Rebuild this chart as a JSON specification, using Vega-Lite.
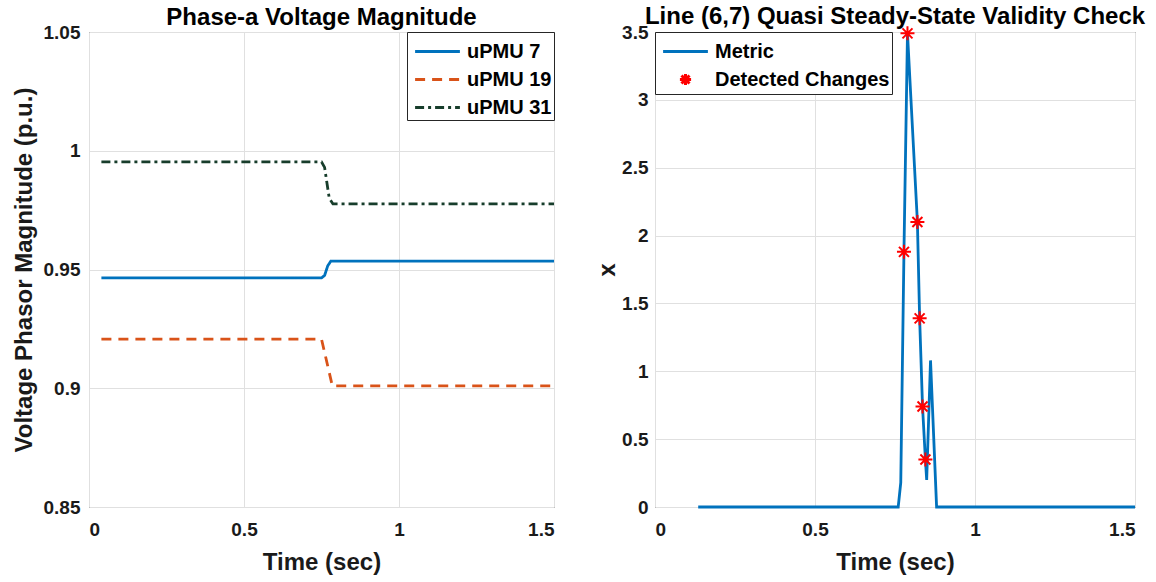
{
  "$schema": "https://vega.github.io/schema/vega-lite/v6.json",
  "padding": {"left": 11, "top": 4, "right": 2, "bottom": 2},
  "background": "white",
  "spacing": 40,
  "config": {
    "font": "Liberation Sans",
    "view": {"stroke": "#262626", "strokeWidth": 1},
    "axis": {
      "labelFont": "Liberation Sans", "labelFontWeight": "bold", "labelFontSize": 19, "labelColor": "#1a1a1a",
      "titleFont": "Liberation Sans", "titleFontWeight": "bold", "titleFontSize": 24, "titleColor": "#1a1a1a",
      "grid": true, "gridColor": "#e0e0e0", "gridWidth": 1, "ticks": false, "domain": false,
      "labelPadding": 13, "format": "~g"
    },
    "title": {"font": "Liberation Sans", "fontWeight": "bold", "fontSize": 24, "color": "#000000", "offset": -7},
    "legend": {
      "labelFont": "Liberation Sans", "labelFontWeight": "bold", "labelFontSize": 20, "labelColor": "#000000",
      "strokeColor": "#262626", "fillColor": "white", "padding": 2, "offset": 0,
      "symbolStrokeWidth": 3, "symbolSize": 1024, "rowPadding": -4.5, "title": null,
      "symbolOffset": 11, "labelOffset": 12, "labelLimit": 400
    }
  },
  "resolve": {
    "scale": {"x": "independent", "y": "independent", "color": "independent", "strokeDash": "independent", "shape": "independent"},
    "legend": {"color": "independent", "strokeDash": "independent", "shape": "independent"}
  },
  "hconcat": [
    {
      "width": 465,
      "height": 475,
      "title": "Phase-a Voltage Magnitude",
      "data": {"values": [
        {"series": "uPMU 7", "t": 0.04, "v": 0.9465},
        {"series": "uPMU 7", "t": 0.75, "v": 0.9465},
        {"series": "uPMU 7", "t": 0.76, "v": 0.9475},
        {"series": "uPMU 7", "t": 0.77, "v": 0.9515},
        {"series": "uPMU 7", "t": 0.78, "v": 0.9535},
        {"series": "uPMU 7", "t": 1.5, "v": 0.9535},
        {"series": "uPMU 19", "t": 0.04, "v": 0.9207},
        {"series": "uPMU 19", "t": 0.75, "v": 0.9207},
        {"series": "uPMU 19", "t": 0.785, "v": 0.901},
        {"series": "uPMU 19", "t": 1.5, "v": 0.901},
        {"series": "uPMU 31", "t": 0.04, "v": 0.9953},
        {"series": "uPMU 31", "t": 0.75, "v": 0.9953},
        {"series": "uPMU 31", "t": 0.76, "v": 0.993},
        {"series": "uPMU 31", "t": 0.775, "v": 0.98},
        {"series": "uPMU 31", "t": 0.787, "v": 0.9776},
        {"series": "uPMU 31", "t": 1.5, "v": 0.9776}
      ]},
      "mark": {"type": "line", "strokeWidth": 2.8, "clip": true},
      "encoding": {
        "x": {"field": "t", "type": "quantitative", "title": "Time (sec)",
              "scale": {"domain": [0, 1.5], "nice": false, "zero": false},
              "axis": {"values": [0, 0.5, 1, 1.5], "titlePadding": 11}},
        "y": {"field": "v", "type": "quantitative", "title": "Voltage Phasor Magnitude (p.u.)",
              "scale": {"domain": [0.85, 1.05], "nice": false, "zero": false},
              "axis": {"values": [0.85, 0.9, 0.95, 1, 1.05], "titlePadding": 7, "labelPadding": 9}},
        "color": {"field": "series", "type": "nominal",
                  "scale": {"domain": ["uPMU 7", "uPMU 19", "uPMU 31"], "range": ["#0072BD", "#D95319", "#173d2b"]},
                  "legend": {"orient": "top-right", "symbolType": "M-1.4,0L1.4,0"}},
        "strokeDash": {"field": "series", "type": "nominal",
                  "scale": {"domain": ["uPMU 7", "uPMU 19", "uPMU 31"], "range": [[1, 0], [10, 7], [9, 4, 3, 4]]},
                  "legend": {"orient": "top-right", "symbolType": "M-1.4,0L1.4,0"}}
      }
    },
    {
      "width": 480,
      "height": 475,
      "title": "Line (6,7) Quasi Steady-State Validity Check",
      "data": {"values": [
        {"series": "Metric", "t": 0.135, "v": 0},
        {"series": "Metric", "t": 0.76, "v": 0},
        {"series": "Metric", "t": 0.768, "v": 0.18},
        {"series": "Metric", "t": 0.778, "v": 1.88},
        {"series": "Metric", "t": 0.789, "v": 3.49},
        {"series": "Metric", "t": 0.82, "v": 2.1},
        {"series": "Metric", "t": 0.827, "v": 1.39},
        {"series": "Metric", "t": 0.836, "v": 0.74},
        {"series": "Metric", "t": 0.845, "v": 0.35},
        {"series": "Metric", "t": 0.849, "v": 0.2},
        {"series": "Metric", "t": 0.861, "v": 1.08},
        {"series": "Metric", "t": 0.88, "v": 0},
        {"series": "Metric", "t": 1.5, "v": 0},
        {"series": "Detected Changes", "t": 0.778, "v": 1.88},
        {"series": "Detected Changes", "t": 0.789, "v": 3.49},
        {"series": "Detected Changes", "t": 0.82, "v": 2.1},
        {"series": "Detected Changes", "t": 0.827, "v": 1.39},
        {"series": "Detected Changes", "t": 0.836, "v": 0.74},
        {"series": "Detected Changes", "t": 0.845, "v": 0.35}
      ]},
      "encoding": {
        "x": {"field": "t", "type": "quantitative", "title": "Time (sec)",
              "scale": {"domain": [0, 1.5], "nice": false, "zero": false},
              "axis": {"values": [0, 0.5, 1, 1.5], "titlePadding": 11}},
        "y": {"field": "v", "type": "quantitative", "title": "x",
              "scale": {"domain": [0, 3.5], "nice": false},
              "axis": {"values": [0, 0.5, 1, 1.5, 2, 2.5, 3, 3.5], "titlePadding": 2, "labelPadding": 7}}
      },
      "layer": [
        {
          "transform": [{"filter": "datum.series === 'Metric'"}],
          "mark": {"type": "line", "strokeWidth": 2.8, "clip": false},
          "encoding": {
            "color": {"field": "series", "type": "nominal",
                      "scale": {"domain": ["Metric", "Detected Changes"], "range": ["#0072BD", "#FF0000"]},
                      "legend": {"orient": "top-left"}}
          }
        },
        {
          "transform": [{"filter": "datum.series === 'Detected Changes'"}],
          "mark": {"type": "point", "filled": false, "strokeWidth": 2, "size": 1600, "opacity": 1, "clip": false},
          "encoding": {
            "color": {"field": "series", "type": "nominal",
                      "scale": {"domain": ["Metric", "Detected Changes"], "range": ["#0072BD", "#FF0000"]},
                      "legend": {"orient": "top-left"}},
            "shape": {"field": "series", "type": "nominal",
                      "scale": {"domain": ["Metric", "Detected Changes"],
                                "range": ["M-1.4,0L1.4,0", "M-0.35,0L0.35,0M0,-0.35L0,0.35M-0.25,-0.25L0.25,0.25M-0.25,0.25L0.25,-0.25"]},
                      "legend": {"orient": "top-left"}}
          }
        }
      ]
    }
  ]
}
